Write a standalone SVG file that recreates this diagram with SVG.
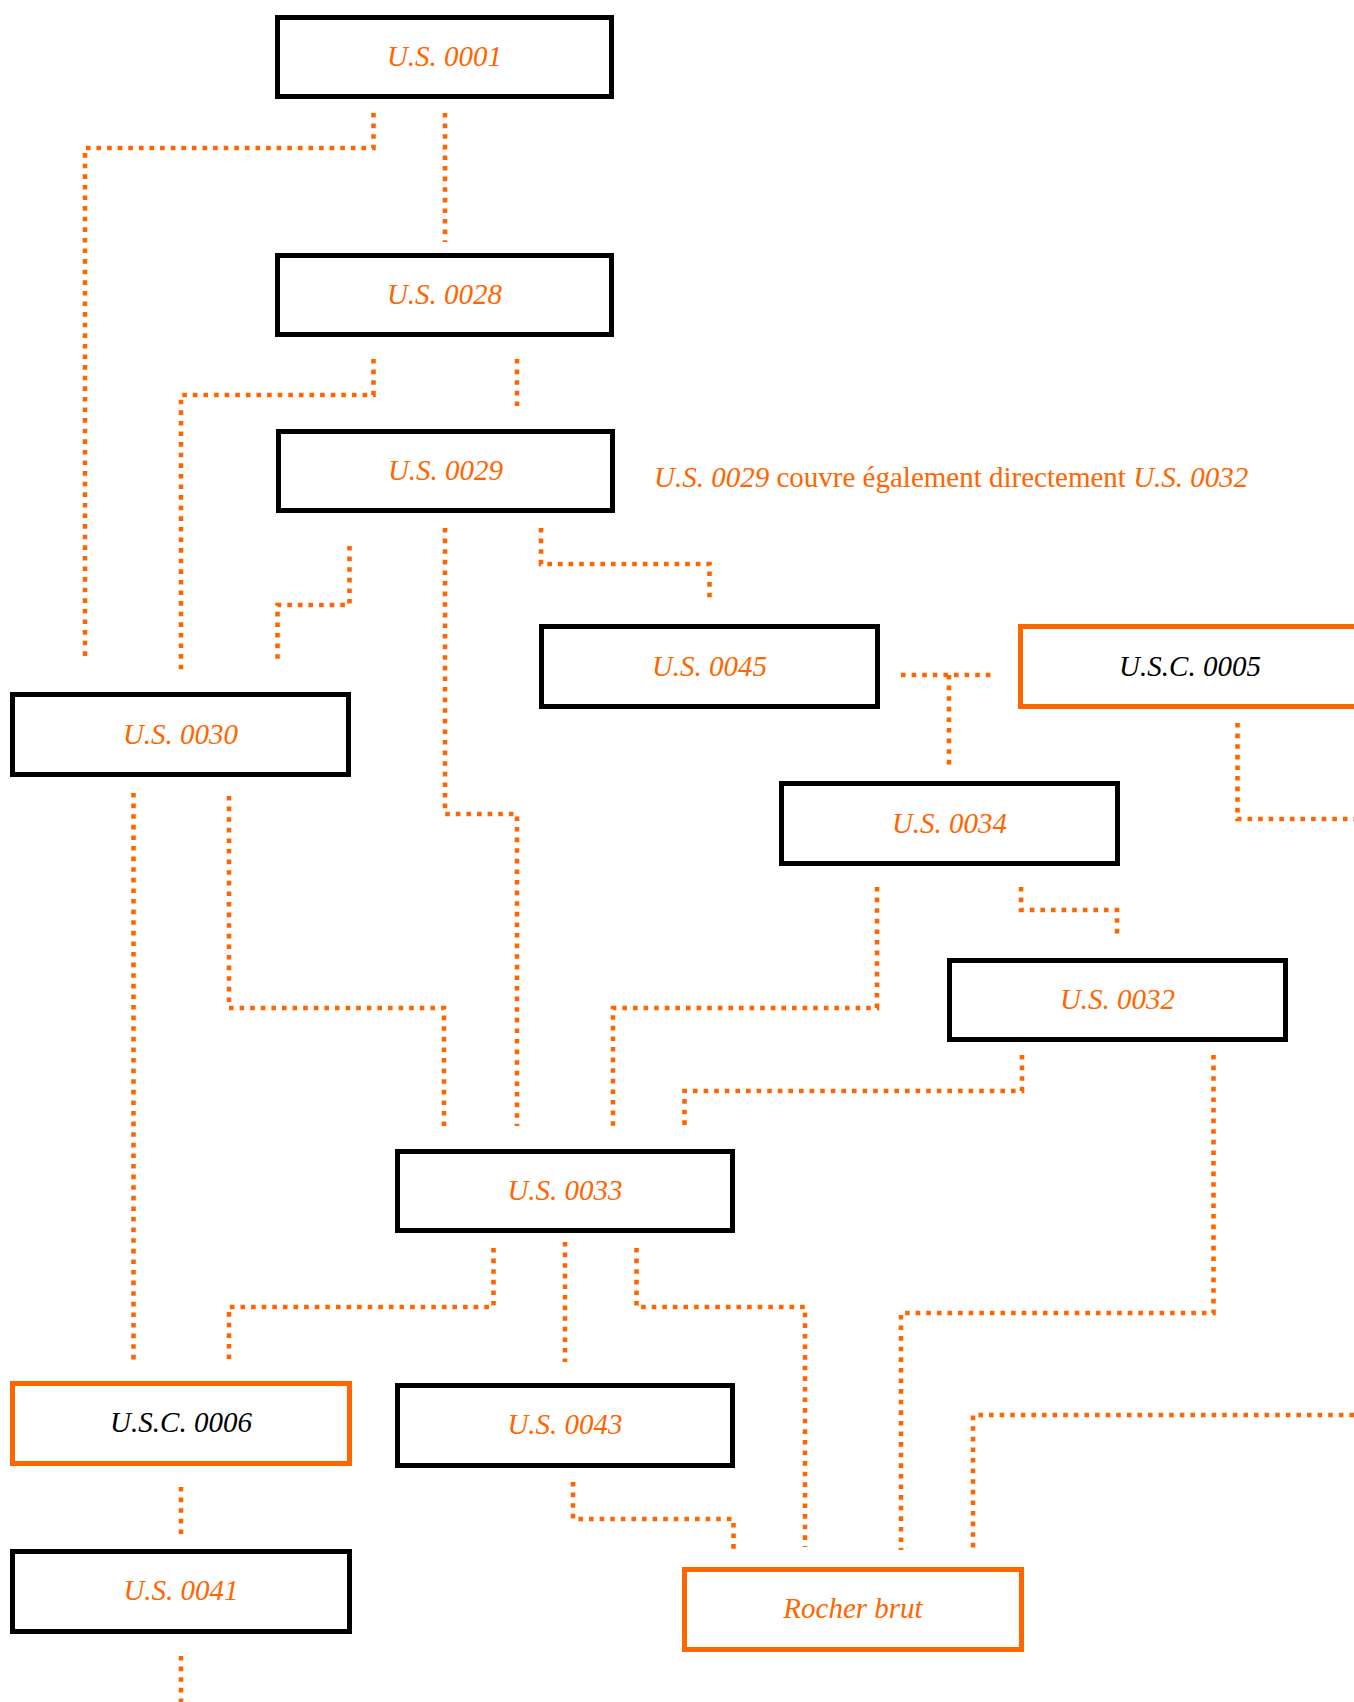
<svg xmlns="http://www.w3.org/2000/svg" width="1354" height="1702" viewBox="0 0 1354 1702">
<style>
.box{fill:#fff;stroke:#000;stroke-width:5}
.obox{fill:#fff;stroke:#FF6600;stroke-width:5}
.lbl{font-family:"Liberation Serif","Times New Roman",serif;font-style:italic;font-size:29px;fill:#FF6600;text-anchor:middle}
.blk{fill:#000}
.note{font-family:"Liberation Serif","Times New Roman",serif;font-size:29px;fill:#FF6600}
.c{fill:none;stroke:#FF6600;stroke-width:4.6;stroke-dasharray:4.6 6}
</style>
<rect width="1354" height="1702" fill="#fff"/>
<g id="connectors">
<path class="c" d="M373.5 113 V148 H85 V662"/>
<path class="c" d="M445 113 V242"/>
<path class="c" d="M373.5 359 V395 H181 V670"/>
<path class="c" d="M517 359 V406"/>
<path class="c" d="M349.5 546 V605 H277.5 V663"/>
<path class="c" d="M445 528 V814 H517 V1126"/>
<path class="c" d="M541 528 V564 H709.5 V601"/>
<path class="c" d="M229 796 V1008 H444 V1126"/>
<path class="c" d="M133.5 793 V1362"/>
<path class="c" d="M901 675 H991"/>
<path class="c" d="M949 675 V766"/>
<path class="c" d="M1237.5 723 V819 H1354"/>
<path class="c" d="M877 887 V1008 H613 V1126"/>
<path class="c" d="M1021 887 V910 H1117 V934"/>
<path class="c" d="M1022 1055 V1091 H684.5 V1126"/>
<path class="c" d="M1213.5 1055 V1313 H901 V1550"/>
<path class="c" d="M1354 1415 H973 V1550"/>
<path class="c" d="M493.5 1248 V1307 H229 V1365"/>
<path class="c" d="M565 1242 V1362"/>
<path class="c" d="M636.5 1248 V1307 H805 V1547"/>
<path class="c" d="M573 1482 V1519 H733.5 V1553"/>
<path class="c" d="M181 1487 V1535"/>
<path class="c" d="M181 1656 V1702"/>
</g>
<g id="us0001"><rect class="box" x="277.5" y="17.5" width="334" height="79"/><text class="lbl" x="444.5" y="66">U.S. 0001</text></g>
<g id="us0028"><rect class="box" x="277.5" y="255.5" width="334" height="79"/><text class="lbl" x="444.5" y="304">U.S. 0028</text></g>
<g id="us0029"><rect class="box" x="278.5" y="431.5" width="334" height="79"/><text class="lbl" x="445.5" y="480">U.S. 0029</text></g>
<g id="note"><text class="note" x="654" y="487"><tspan font-style="italic">U.S. 0029</tspan> couvre également directement <tspan font-style="italic">U.S. 0032</tspan></text></g>
<g id="us0045"><rect class="box" x="541.5" y="626.5" width="336" height="80"/><text class="lbl" x="709.5" y="676">U.S. 0045</text></g>
<g id="usc0005"><rect class="obox" x="1020.5" y="626.5" width="340" height="80"/><text class="lbl blk" x="1190" y="676">U.S.C. 0005</text></g>
<g id="us0030"><rect class="box" x="12.5" y="694.5" width="336" height="80"/><text class="lbl" x="180.5" y="744">U.S. 0030</text></g>
<g id="us0034"><rect class="box" x="781.5" y="783.5" width="336" height="80"/><text class="lbl" x="949.5" y="833">U.S. 0034</text></g>
<g id="us0032"><rect class="box" x="949.5" y="960.5" width="336" height="79"/><text class="lbl" x="1117.5" y="1009">U.S. 0032</text></g>
<g id="us0033"><rect class="box" x="397.5" y="1151.5" width="335" height="79"/><text class="lbl" x="565" y="1200">U.S. 0033</text></g>
<g id="usc0006"><rect class="obox" x="12.5" y="1383.5" width="337" height="80"/><text class="lbl blk" x="181" y="1432">U.S.C. 0006</text></g>
<g id="us0043"><rect class="box" x="397.5" y="1385.5" width="335" height="80"/><text class="lbl" x="565" y="1434">U.S. 0043</text></g>
<g id="us0041"><rect class="box" x="12.5" y="1551.5" width="337" height="80"/><text class="lbl" x="181" y="1600">U.S. 0041</text></g>
<g id="rocher"><rect class="obox" x="684.5" y="1569.5" width="337" height="80"/><text class="lbl" x="853" y="1618">Rocher brut</text></g>
</svg>
